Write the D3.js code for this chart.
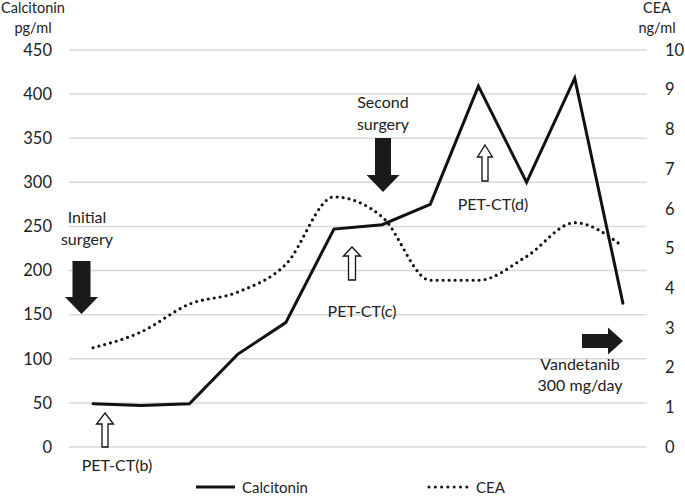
<!DOCTYPE html>
<html>
<head>
<meta charset="utf-8">
<script src="https://cdn.jsdelivr.net/npm/d3@7"></script>
<style>
  html, body { margin: 0; padding: 0; background: #fff; }
  svg { display: block; }
  text { font-family: Lato, "Open Sans", sans-serif; fill: #222; }
</style>
</head>
<body>
<svg id="chart" width="685" height="496"></svg>
<script>
// ---- data ----
const categories = ["1","2","3","4","5","6","7","8","9","10","11","12"];
const calcitonin = [49, 47, 49, 105, 141, 247, 252, 275, 409, 300, 418, 163];
const cea = [2.5, 2.9, 3.6, 3.9, 4.6, 6.3, 5.8, 4.2, 4.2, 4.8, 5.65, 5.05];
const leftTicks = [0, 50, 100, 150, 200, 250, 300, 350, 400, 450];
const rightTicks = [0, 1, 2, 3, 4, 5, 6, 7, 8, 9, 10];
const seriesNames = ["Calcitonin", "CEA"];

// ---- layout ----
const W = 685, H = 496;
const plot = { left: 69, right: 647, top: 50, bottom: 447 };
const svg = d3.select("#chart");

const x = d3.scalePoint().domain(categories).range([plot.left, plot.right]).padding(0.5);
const yL = d3.scaleLinear().domain([0, 450]).range([plot.bottom, plot.top]);
const yR = d3.scaleLinear().domain([0, 10]).range([plot.bottom, plot.top]);

// gridlines
svg.append("g").selectAll("line").data(leftTicks).join("line")
  .attr("x1", plot.left).attr("x2", plot.right)
  .attr("y1", d => yL(d)).attr("y2", d => yL(d))
  .attr("stroke", "#d9d9d9").attr("stroke-width", 1.5);

// left axis
const gL = svg.append("g").attr("transform", `translate(${plot.left},0)`)
  .call(d3.axisLeft(yL).tickValues(leftTicks).tickSize(0).tickPadding(17));
gL.select(".domain").remove();
gL.selectAll("text").style("font-size", "16.5px").style("font-family", "Lato, sans-serif").attr("fill", "#222");

// right axis
const gR = svg.append("g").attr("transform", `translate(${plot.right},0)`)
  .call(d3.axisRight(yR).tickValues(rightTicks).tickSize(0).tickPadding(18));
gR.select(".domain").remove();
gR.selectAll("text").style("font-size", "16.5px").style("font-family", "Lato, sans-serif").attr("fill", "#222");

// axis titles
svg.append("text").attr("x", 33).attr("y", 13).attr("text-anchor", "middle").style("font-size", "14.5px").text("Calcitonin");
svg.append("text").attr("x", 33).attr("y", 33).attr("text-anchor", "middle").style("font-size", "14.5px").text("pg/ml");
svg.append("text").attr("x", 657).attr("y", 13).attr("text-anchor", "middle").style("font-size", "14.5px").text("CEA");
svg.append("text").attr("x", 657).attr("y", 33).attr("text-anchor", "middle").style("font-size", "14.5px").text("ng/ml");

// lines
const calcLine = d3.line().x((d, i) => x(categories[i])).y(d => yL(d));
svg.append("path").datum(calcitonin).attr("d", calcLine)
  .attr("fill", "none").attr("stroke", "#111").attr("stroke-width", 3)
  .attr("stroke-linejoin", "miter").attr("stroke-linecap", "round");

const ceaLine = d3.line().x((d, i) => x(categories[i])).y(d => yR(d)).curve(d3.curveMonotoneX);
svg.append("path").datum(cea).attr("d", ceaLine)
  .attr("fill", "none").attr("stroke", "#111").attr("stroke-width", 3.2)
  .attr("stroke-dasharray", "0 6").attr("stroke-linecap", "round");

// ---- annotations ----
function solidDown(cx, top, tip, shaftW, headW, headH) {
  const p = [[cx - shaftW/2, top], [cx + shaftW/2, top], [cx + shaftW/2, tip - headH],
             [cx + headW/2, tip - headH], [cx, tip], [cx - headW/2, tip - headH], [cx - shaftW/2, tip - headH]];
  svg.append("polygon").attr("points", p.map(q => q.join(",")).join(" ")).attr("fill", "#1a1a1a");
}
function hollowUp(cx, tip, bottom, shaftW, headW, headH) {
  const p = [[cx, tip], [cx + headW/2, tip + headH], [cx + shaftW/2, tip + headH], [cx + shaftW/2, bottom],
             [cx - shaftW/2, bottom], [cx - shaftW/2, tip + headH], [cx - headW/2, tip + headH]];
  svg.append("polygon").attr("points", p.map(q => q.join(",")).join(" "))
    .attr("fill", "#fff").attr("stroke", "#111").attr("stroke-width", 1.3);
}
function solidRight(left, cy, tip, shaftH, headH, headW) {
  const p = [[left, cy - shaftH/2], [tip - headW, cy - shaftH/2], [tip - headW, cy - headH/2], [tip, cy],
             [tip - headW, cy + headH/2], [tip - headW, cy + shaftH/2], [left, cy + shaftH/2]];
  svg.append("polygon").attr("points", p.map(q => q.join(",")).join(" ")).attr("fill", "#1a1a1a");
}
function label(cx, cy, str) {
  svg.append("text").attr("x", cx).attr("y", cy).attr("text-anchor", "middle")
    .attr("dominant-baseline", "central").style("font-size", "16px").text(str);
}

// Initial surgery
label(87, 216, "Initial");
label(87, 238, "surgery");
solidDown(81.5, 261, 314, 18, 33, 17);

// Second surgery
label(383, 101, "Second");
label(383, 123, "surgery");
solidDown(383, 138, 192, 16, 33, 17);

// PET-CT(b)
hollowUp(105, 413, 447, 6, 17, 11);
label(117, 464, "PET-CT(b)");

// PET-CT(c)
hollowUp(352, 247, 280, 7, 17, 9);
label(362, 310, "PET-CT(c)");

// PET-CT(d)
hollowUp(485, 145, 181, 6, 15, 12);
label(493, 203, "PET-CT(d)");

// Vandetanib
solidRight(582, 341, 623, 14, 27, 15);
label(580, 363, "Vandetanib");
label(580, 384, "300 mg/day");

// ---- legend ----
const lg = svg.append("g");
lg.append("line").attr("x1", 196).attr("x2", 235).attr("y1", 487).attr("y2", 487)
  .attr("stroke", "#111").attr("stroke-width", 3);
lg.append("text").attr("x", 242).attr("y", 487).attr("dominant-baseline", "central")
  .style("font-size", "15px").text(seriesNames[0]);
lg.append("line").attr("x1", 429).attr("x2", 467).attr("y1", 487).attr("y2", 487)
  .attr("stroke", "#111").attr("stroke-width", 3).attr("stroke-dasharray", "0 6.3").attr("stroke-linecap", "round");
lg.append("text").attr("x", 476).attr("y", 487).attr("dominant-baseline", "central")
  .style("font-size", "15px").text(seriesNames[1]);
</script>
</body>
</html>
